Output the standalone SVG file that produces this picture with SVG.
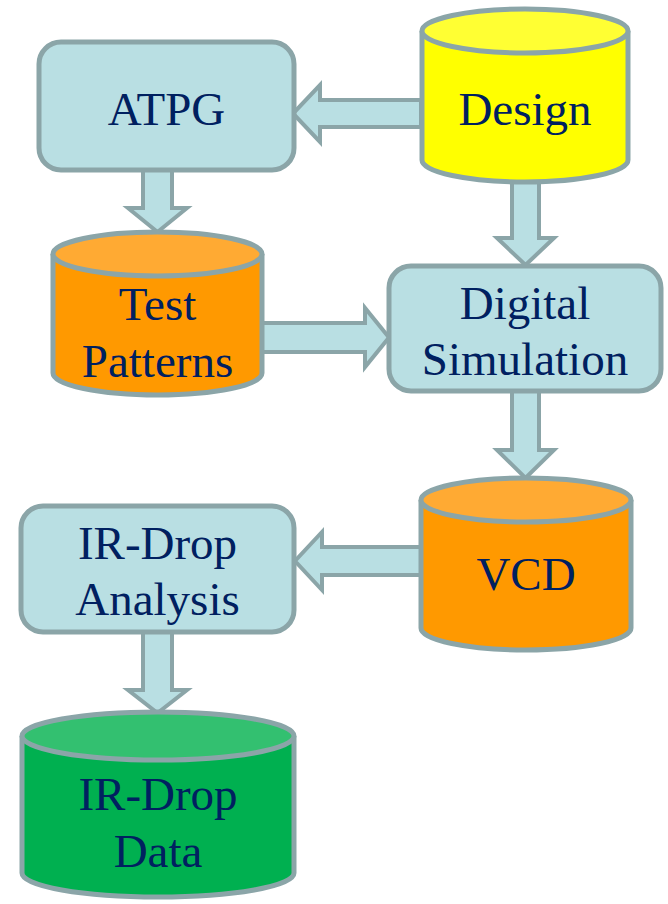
<svg xmlns="http://www.w3.org/2000/svg" width="668" height="904" viewBox="0 0 668 904">
<style>
.box{fill:#B9DFE3;stroke:#8BA5A8;stroke-width:5}
.arr{fill:#B9DFE3;stroke:#8BA5A8;stroke-width:4;stroke-linejoin:miter}
.cyl{stroke:#8BA5A8;stroke-width:5}
.t{font-family:"Liberation Serif","Times New Roman",serif;font-size:47px;fill:#002060;text-anchor:middle}
.yb{fill:#FFFF00}.yt{fill:#FFFF33}
.ob{fill:#FF9900}.ot{fill:#FFAA33}
.gb{fill:#00B050}.gt{fill:#33C070}
</style>
<rect width="668" height="904" fill="#fff"/>
<g id="connectors">
<polygon class="arr" points="421,100 320,100 320,85 293,113.5 320,142 320,127 421,127"/>
<polygon class="arr" points="143,170 143,208 128,208 157.5,232 187,208 172,208 172,170"/>
<polygon class="arr" points="512,182 512,238 497,238 525.5,265 554,238 539,238 539,182"/>
<polygon class="arr" points="262,323 365,323 365,308 389,337.5 365,367 365,352 262,352"/>
<polygon class="arr" points="512,391 512,450 497,450 525.5,478 554,450 539,450 539,391"/>
<polygon class="arr" points="421,547 322,547 322,532 295,561 322,590 322,575 421,575"/>
<polygon class="arr" points="143,632 143,690 128,690 157.5,713 187,690 172,690 172,632"/>
</g>
<g id="atpg">
<rect class="box" x="39" y="42" width="255" height="128" rx="22"/>
<text class="t" x="166.5" y="125">ATPG</text>
</g>
<g id="design">
<path class="cyl yb" d="M422,31 V160 A103,22 0 0 0 628,160 V31"/>
<ellipse class="cyl yt" cx="525" cy="31" rx="103" ry="22"/>
<text class="t" x="525" y="125">Design</text>
</g>
<g id="test-patterns">
<path class="cyl ob" d="M53,254 V373 A104.5,22 0 0 0 262,373 V254"/>
<ellipse class="cyl ot" cx="157.5" cy="254" rx="104.5" ry="22"/>
<text class="t" x="157.5" y="320">Test</text>
<text class="t" x="157.5" y="377">Patterns</text>
</g>
<g id="digital-simulation">
<rect class="box" x="389" y="266" width="272" height="125" rx="22"/>
<text class="t" x="525" y="319">Digital</text>
<text class="t" x="525" y="375">Simulation</text>
</g>
<g id="vcd">
<path class="cyl ob" d="M421,500 V628 A105,22 0 0 0 631,628 V500"/>
<ellipse class="cyl ot" cx="526" cy="500" rx="105" ry="22"/>
<text class="t" x="526" y="590">VCD</text>
</g>
<g id="ir-drop-analysis">
<rect class="box" x="21" y="506" width="273" height="126" rx="22"/>
<text class="t" x="157.5" y="559">IR-Drop</text>
<text class="t" x="157.5" y="615">Analysis</text>
</g>
<g id="ir-drop-data">
<path class="cyl gb" d="M22,736 V873 A136,24 0 0 0 294,873 V736"/>
<ellipse class="cyl gt" cx="158" cy="736" rx="136" ry="24"/>
<text class="t" x="158" y="810">IR-Drop</text>
<text class="t" x="158" y="867">Data</text>
</g>
</svg>
